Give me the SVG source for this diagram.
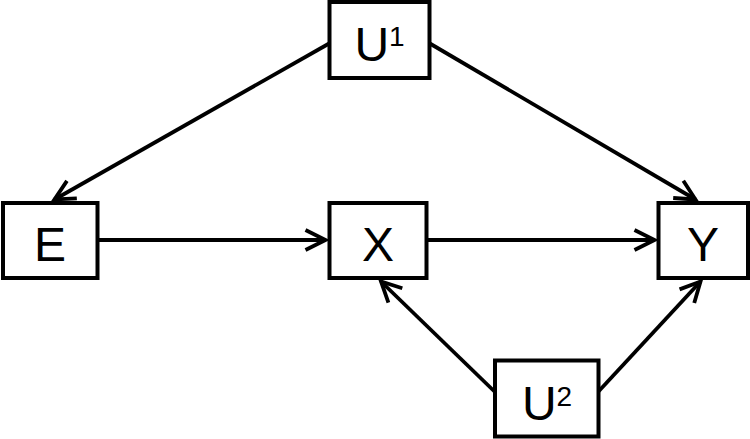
<svg xmlns="http://www.w3.org/2000/svg" width="750" height="439" viewBox="0 0 750 439">
<style>
.box{fill:#fff;stroke:#000;stroke-width:4}
.lbl{font-family:"Liberation Sans",Arial,sans-serif;font-size:48px;fill:#000;text-anchor:middle}
.sup{font-size:28px}
.edge{stroke:#000;stroke-width:3.8;fill:none}
</style>
<defs>
<marker id="arr" markerUnits="userSpaceOnUse" viewBox="-26 -16 32 32" markerWidth="32" markerHeight="32" refX="0" refY="0" orient="auto">
<path d="M-20,-10 L0,0 L-20,10" fill="none" stroke="#000" stroke-width="3.8" stroke-linejoin="miter"/>
</marker>
</defs>
<g id="connectors">
<line class="edge" x1="99" y1="240" x2="325.5" y2="240" marker-end="url(#arr)"/>
<line class="edge" x1="428" y1="240" x2="654.5" y2="240" marker-end="url(#arr)"/>
<line class="edge" x1="330" y1="43" x2="54.5" y2="199.5" marker-end="url(#arr)"/>
<line class="edge" x1="429" y1="43" x2="695.5" y2="199.5" marker-end="url(#arr)"/>
<line class="edge" x1="495" y1="392" x2="381" y2="281.5" marker-end="url(#arr)"/>
<line class="edge" x1="598" y1="392" x2="700.5" y2="281.5" marker-end="url(#arr)"/>
</g>
<g id="U1">
<rect class="box" x="329.5" y="2" width="100" height="76"/>
<text class="lbl" x="379.5" y="60.5">U<tspan class="sup" dy="-15">1</tspan></text>
</g>
<g id="E">
<rect class="box" x="3" y="203" width="94.5" height="75"/>
<text class="lbl" x="50" y="260.5">E</text>
</g>
<g id="X">
<rect class="box" x="329.5" y="203" width="97" height="75"/>
<text class="lbl" x="378" y="260.5">X</text>
</g>
<g id="Y">
<rect class="box" x="658.5" y="203" width="89.5" height="75"/>
<text class="lbl" x="703" y="260.5">Y</text>
</g>
<g id="U2">
<rect class="box" x="495" y="360.5" width="103.5" height="76"/>
<text class="lbl" x="547" y="420">U<tspan class="sup" dy="-14">2</tspan></text>
</g>
</svg>
